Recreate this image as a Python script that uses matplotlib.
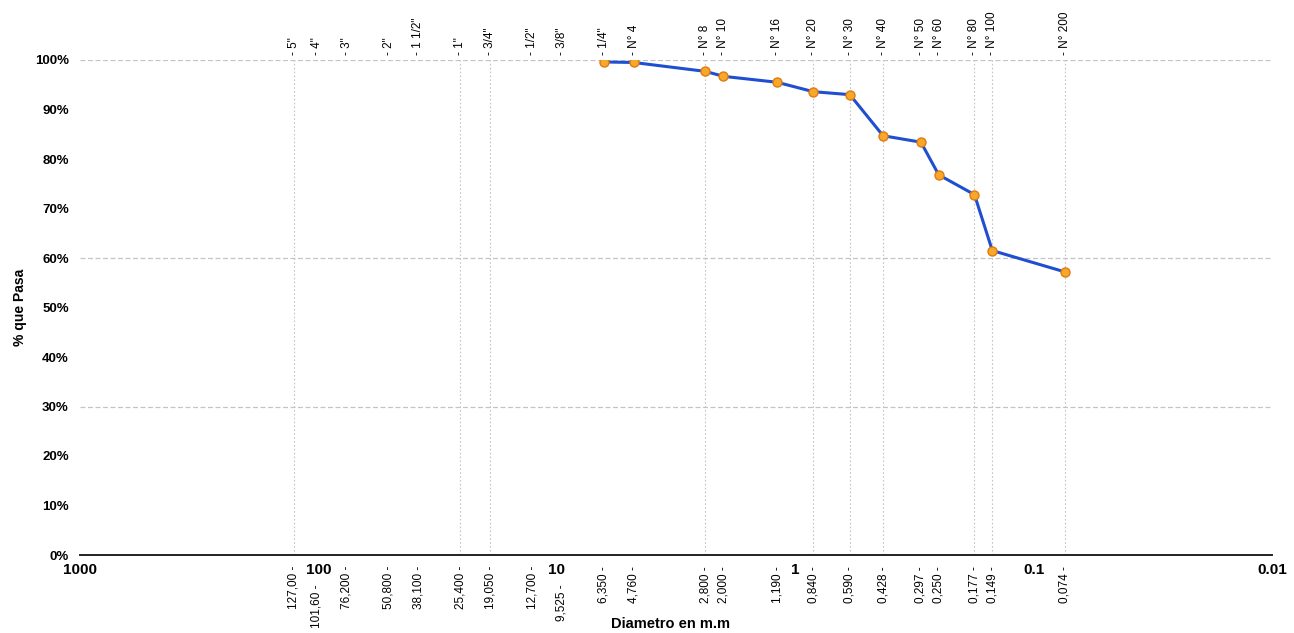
import matplotlib.pyplot as plt
from matplotlib.ticker import NullLocator
import matplotlib.transforms as mtransforms

plt.rcParams["font.family"] = ["Liberation Sans", "DejaVu Sans"]

# sieve series: name, opening (mm) and the printed opening text
sieve_names = ['5"', '4"', '3"', '2"', '1 1/2"', '1"', '3/4"', '1/2"', '3/8"', '1/4"',
               "N° 4", "N° 8", "N° 10", "N° 16", "N° 20", "N° 30", "N° 40",
               "N° 50", "N° 60", "N° 80", "N° 100", "N° 200"]
sieve_mm = [127.0, 101.6, 76.2, 50.8, 38.1, 25.4, 19.05, 12.7, 9.525, 6.35,
            4.76, 2.38, 2.0, 1.19, 0.84, 0.59, 0.428,
            0.297, 0.25, 0.177, 0.149, 0.074]
sieve_text = ["127,00", "101,60", "76,200", "50,800", "38,100", "25,400", "19,050",
              "12,700", "9,525", "6,350", "4,760", "2,800", "2,000", "1,190",
              "0,840", "0,590", "0,428", "0,297", "0,250", "0,177", "0,149", "0,074"]

# grading results
test_mm = [6.35, 4.76, 2.38, 2.0, 1.19, 0.84, 0.59, 0.428, 0.297, 0.25, 0.177, 0.149, 0.074]
passing = [99.6, 99.5, 97.7, 96.7, 95.5, 93.6, 93.0, 84.7, 83.4, 76.8, 72.8, 61.5, 57.2]

decades = [1000, 100, 10, 1, 0.1, 0.01]
decade_text = ["1000", "100", "10", "1", "0.1", "0.01"]
y_ticks = list(range(0, 101, 10))
h_grid = [30, 60, 100]
v_grid = [127.0, 25.4, 19.05, 2.38, 0.84, 0.59, 0.428, 0.177, 0.149, 0.074]

fig = plt.figure(figsize=(12.94, 6.33), dpi=100)
ax = fig.add_axes([80 / 1294, 78 / 633, (1272 - 80) / 1294, (573 - 78) / 633])

ax.set_xscale("log")
ax.set_xlim(1000, 0.01)
ax.set_ylim(0, 100)

for v in v_grid:
    ax.axvline(v, color="#c4c4c4", lw=0.8, ls=(0, (1.5, 2)), zorder=1)
for h in h_grid:
    ax.axhline(h, color="#c4c4c4", lw=0.9, ls=(0, (4, 2)), zorder=1)

ax.plot(test_mm, passing, color="#1f4fd0", lw=2.2, zorder=3,
        marker="o", ms=6.5, mfc="#f6a928", mec="#e07a12", mew=1.0)

for side in ("left", "right", "top"):
    ax.spines[side].set_visible(False)
ax.spines["bottom"].set_color("#222222")
ax.spines["bottom"].set_linewidth(1.4)

ax.set_yticks(y_ticks)
ax.set_yticklabels([f"{v}%" for v in y_ticks], fontsize=9.5, weight="semibold")
ax.tick_params(axis="y", length=0, pad=8)

ax.xaxis.set_minor_locator(NullLocator())
ax.set_xticks(decades)
ax.set_xticklabels(decade_text, fontsize=11, weight="bold")
ax.tick_params(axis="x", length=0, pad=6)

trans = mtransforms.blended_transform_factory(ax.transData, ax.transAxes)

# sieve names above the frame
for name, mm in zip(sieve_names, sieve_mm):
    ax.text(mm, 1.01, f"- {name}", transform=trans, rotation=90,
            ha="center", va="bottom", fontsize=8.5)

# sieve openings below the frame; a couple are pushed down past the decade numbers
pushed_down = {"101,60", "9,525"}
for txt, mm in zip(sieve_text, sieve_mm):
    y = -0.06 if txt in pushed_down else -0.022
    ax.text(mm, y, f"{txt} -", transform=trans, rotation=90,
            ha="center", va="top", fontsize=8.5)

ax.set_ylabel("% que Pasa", fontsize=10, weight="bold", labelpad=6)
fig.text(0.518, 0.003, "Diametro en m.m", ha="center", va="bottom",
         fontsize=10.5, weight="bold")

fig.savefig("out.png", dpi=100, facecolor="white")
